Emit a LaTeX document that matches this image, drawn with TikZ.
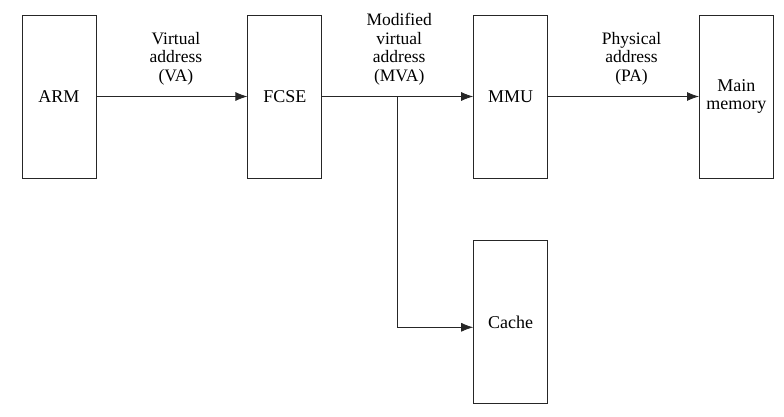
\documentclass[tikz,border=0pt]{standalone}
\usepackage{fontspec}
\setmainfont{Liberation Serif}
\usepackage{tikz}
\usetikzlibrary{positioning}
\usetikzlibrary{arrows.meta}
\tikzstyle{unit} = [draw, minimum width=74pt, minimum height=163pt, inner sep=1pt, align=center, font=\fontsize{18}{18.5}\selectfont]
\tikzstyle{tag} = [align=center, inner sep=1pt, font=\fontsize{17.5}{18.5}\selectfont]
\tikzstyle{line} = [draw, -{Latex[length=12pt,width=9pt]}]

\begin{document}
\begin{tikzpicture}[line width=0.8pt, draw=black!85]
	\useasboundingbox (0,0) rectangle (784pt,-417pt);
	
	\node[unit] (arm) at (59pt,-96.5pt) {ARM};
	\node[unit, right=151pt of arm] (fcse) {FCSE};
	\node[unit, right=151pt of fcse] (mmu) {MMU};
	\node[unit, right=151pt of mmu] (mem) {Main\\memory};
	\node[unit, below=62pt of mmu] (cache) {Cache};
	\coordinate[right=75pt of fcse.east] (split);
	
	\draw[line] (arm) -- (fcse);
	\draw[line] (fcse) -- (mmu);
	\draw[line] (mmu) -- (mem);
	\draw[line] (split) |- ([yshift=-5pt]cache.west);
	
	\path (arm) -- node[tag, above=10pt, xshift=4pt] (va) {Virtual\\address\\(VA)} (fcse);
	\node[tag, above=10pt of split, xshift=2pt] (mva) {Modified\\virtual\\address\\(MVA)};
	\path (mmu) -- node[tag, above=10pt, xshift=8pt] (pa) {Physical\\address\\(PA)} (mem);
\end{tikzpicture}
\end{document}
